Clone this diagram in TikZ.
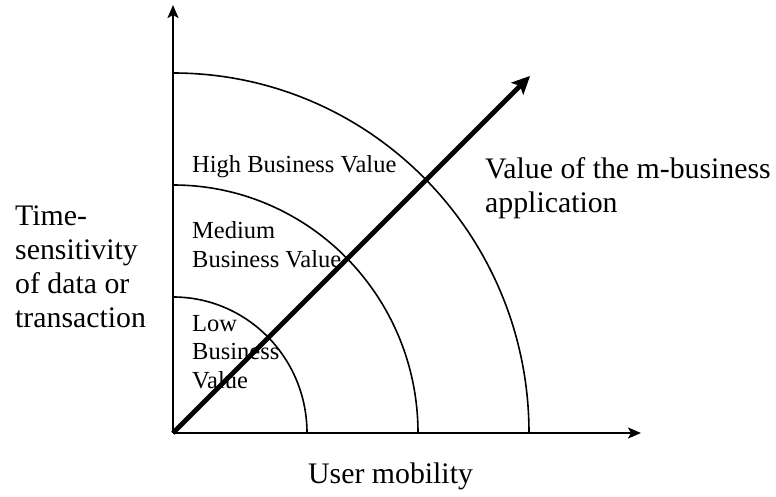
\documentclass[tikz,border=0pt]{standalone}
\usepackage{fontspec}
\setmainfont{Liberation Serif}
\usetikzlibrary{arrows.meta}
\begin{document}
\begin{tikzpicture}[x=1pt,y=1pt,
  axisline/.style={line width=2pt,-{Stealth[length=13pt,width=11pt,inset=3pt]}},
  valuearc/.style={line width=1.6pt},
  valuearrow/.style={line width=4.8pt,-{Stealth[length=18pt,width=17pt,inset=4pt]}},
  biglabel/.style={inner sep=0pt,anchor=base west,align=left,font=\fontsize{29.8}{34}\selectfont},
  smalllabel/.style={inner sep=0pt,anchor=base west,align=left,font=\fontsize{24.5}{28.5}\selectfont}]
\useasboundingbox (0,-497) rectangle (776,0);
% axes
\coordinate (O) at (173,-433);
\coordinate (xend) at (641,-433);
\coordinate (yend) at (173,-5);
\draw[axisline] (O) -- (xend);
\draw[axisline] (O) -- (yend);
% value bands
\draw[valuearc] (O) ++(134,0) arc[start angle=0,end angle=90,x radius=134pt,y radius=136pt];
\draw[valuearc] (O) ++(245,0) arc[start angle=0,end angle=90,x radius=245pt,y radius=248pt];
\draw[valuearc] (O) ++(356,0) arc[start angle=0,end angle=90,x radius=356pt,y radius=360pt];
% labels (multi-line nodes sit on the baseline of their last line)
\node[biglabel] (ylabel) at (15,-327) {Time-\\sensitivity\\of data or\\transaction};
\node[biglabel] (xlabel) at (308,-483) {User mobility};
\node[biglabel] (dlabel) at (485,-212) {Value of the m-business\\application};
\node[smalllabel] (high) at (192,-173) {High Business Value};
\node[smalllabel] (medium) at (192,-267) {Medium\\Business Value};
\node[smalllabel] (low) at (192,-388) {Low\\Business\\Value};
% value direction
\coordinate (vtip) at (530,-76);
\draw[valuearrow] (O) -- (vtip);
\end{tikzpicture}
\end{document}
